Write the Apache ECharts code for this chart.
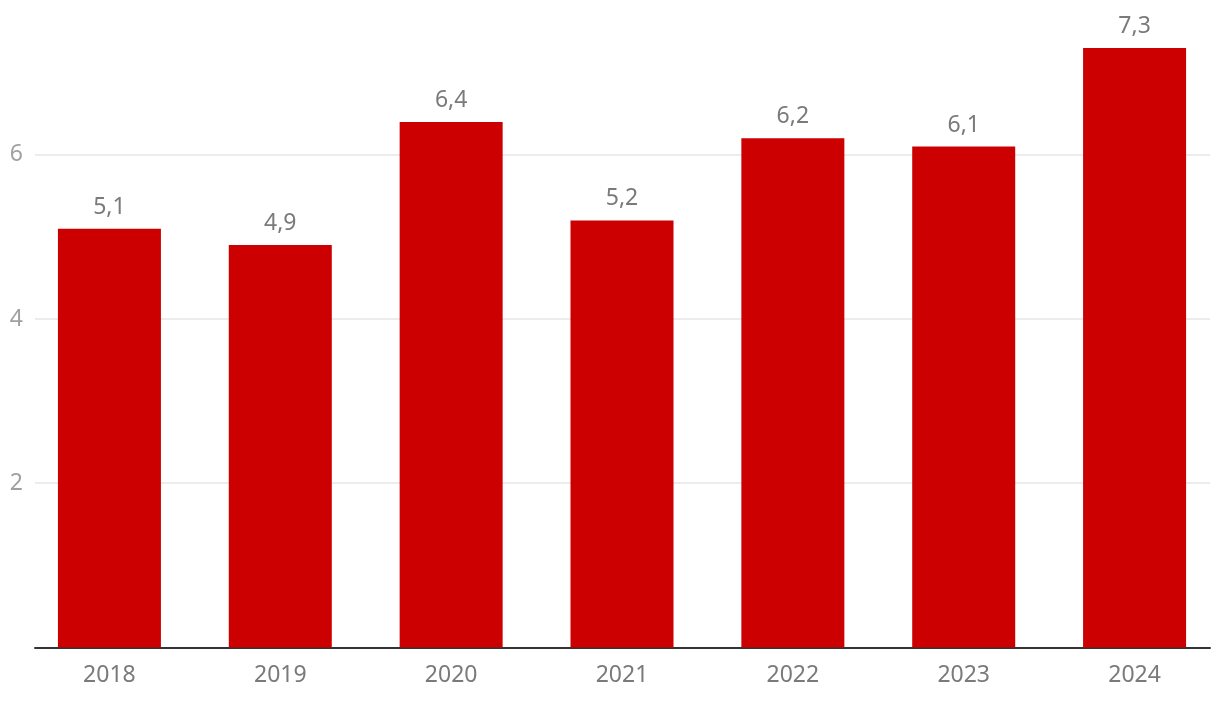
<!DOCTYPE html>
<html>
<head>
<meta charset="utf-8">
<script src="https://cdn.jsdelivr.net/npm/echarts@6/dist/echarts.min.js"></script>
<style>
html,body{margin:0;padding:0;background:#fff;}
#chart{width:1220px;height:702px;}
</style>
</head>
<body>
<div id="chart"></div>
<script>
const categories = ['2018', '2019', '2020', '2021', '2022', '2023', '2024'];
const values = [5.1, 4.9, 6.4, 5.2, 6.2, 6.1, 7.3];
const yTicks = [2, 4, 6];

const FONT = 'Noto Sans';
const chart = echarts.init(document.getElementById('chart'), null, {renderer: 'canvas'});
const gridTop = 0, gridHeight = 647.5, yMax = 7.884;
chart.setOption({
  animation: false,
  backgroundColor: '#ffffff',
  grid: [
    {left: 35, right: 10, top: gridTop, height: gridHeight},
    {left: 24, width: 1199, top: gridTop, height: gridHeight}
  ],
  xAxis: [
    {
      gridIndex: 0, type: 'category', data: categories,
      axisLine: {show: true, lineStyle: {color: '#333333', width: 2}},
      axisTick: {show: false}, axisLabel: {show: false}, splitLine: {show: false}
    },
    {
      gridIndex: 1, type: 'category', data: categories,
      axisLine: {show: false}, axisTick: {show: false},
      axisLabel: {color: '#7a7a7a', fontSize: 23, fontFamily: FONT, margin: 16}
    }
  ],
  yAxis: [
    {
      gridIndex: 0, type: 'value', min: 0, max: yMax, interval: 2,
      axisLine: {show: false}, axisTick: {show: false},
      axisLabel: {
        color: '#a0a0a0', fontSize: 23, fontFamily: FONT, margin: 12,
        formatter: v => yTicks.includes(v) ? String(v) : ''
      },
      splitLine: {show: true, showMaxLine: false, showMinLine: false, lineStyle: {color: '#e6e6e6', width: 1.5}}
    },
    {
      gridIndex: 1, type: 'value', min: 0, max: yMax, interval: 2,
      axisLine: {show: false}, axisTick: {show: false},
      axisLabel: {show: false}, splitLine: {show: false}
    }
  ],
  series: [{
    type: 'bar', xAxisIndex: 1, yAxisIndex: 1,
    data: values, barWidth: 103, z: 3,
    itemStyle: {color: '#cc0000'},
    label: {
      show: true, position: 'top', distance: 10,
      color: '#7a7a7a', fontSize: 23, fontFamily: FONT,
      formatter: p => String(p.value).replace('.', ',')
    }
  }]
});
</script>
</body>
</html>
